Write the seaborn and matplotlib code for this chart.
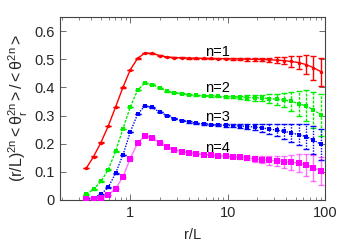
import numpy as np
import pandas as pd
import matplotlib
matplotlib.use("Agg")
import matplotlib.pyplot as plt
import seaborn as sns

r_over_L = [0.354, 0.420, 0.5, 0.595, 0.707, 0.841, 1.0, 1.189, 1.414, 1.682,
            2.0, 2.378, 2.828, 3.364, 4.0, 4.757, 5.657, 6.727, 8.0, 9.514,
            11.31, 13.45, 16.0, 19.03, 22.63, 26.91, 32.0, 38.05, 45.25, 53.82,
            64.0, 76.11, 90.51]

n1 = [0.113, 0.154, 0.204, 0.263, 0.330, 0.400, 0.462, 0.503, 0.522, 0.521,
      0.513, 0.508, 0.506, 0.505, 0.504, 0.504, 0.503, 0.503, 0.502, 0.502,
      0.501, 0.501, 0.500, 0.500, 0.499, 0.498, 0.497, 0.495, 0.492, 0.488,
      0.481, 0.470, 0.456]
n1_err = [0.001, 0.001, 0.001, 0.001, 0.001, 0.001, 0.001, 0.001, 0.001, 0.001,
          0.001, 0.001, 0.002, 0.002, 0.002, 0.002, 0.002, 0.002, 0.002, 0.002,
          0.004, 0.004, 0.005, 0.005, 0.006, 0.008, 0.010, 0.013, 0.018, 0.024,
          0.033, 0.043, 0.050]

n2 = [0.020, 0.038, 0.066, 0.108, 0.173, 0.252, 0.330, 0.390, 0.415, 0.410,
      0.398, 0.386, 0.381, 0.378, 0.374, 0.372, 0.370, 0.369, 0.368, 0.367,
      0.366, 0.365, 0.364, 0.363, 0.362, 0.360, 0.358, 0.355, 0.350, 0.342,
      0.334, 0.320, 0.303]
n2_err = [0.001, 0.001, 0.001, 0.001, 0.001, 0.001, 0.001, 0.001, 0.001, 0.001,
          0.001, 0.002, 0.002, 0.002, 0.002, 0.002, 0.002, 0.003, 0.003, 0.004,
          0.005, 0.006, 0.008, 0.010, 0.012, 0.016, 0.020, 0.025, 0.035, 0.045,
          0.055, 0.065, 0.075]

n3 = [0.005, 0.008, 0.020, 0.045, 0.095, 0.160, 0.241, 0.305, 0.334, 0.329,
      0.312, 0.300, 0.289, 0.282, 0.277, 0.273, 0.270, 0.268, 0.266, 0.265,
      0.264, 0.263, 0.261, 0.259, 0.256, 0.252, 0.248, 0.244, 0.238, 0.232,
      0.225, 0.213, 0.198]
n3_err = [0.001, 0.001, 0.001, 0.001, 0.001, 0.001, 0.001, 0.001, 0.001, 0.001,
          0.001, 0.002, 0.002, 0.002, 0.002, 0.002, 0.002, 0.003, 0.003, 0.004,
          0.005, 0.007, 0.009, 0.012, 0.015, 0.018, 0.022, 0.027, 0.032, 0.038,
          0.044, 0.050, 0.055]

n4 = [0.002, 0.003, 0.006, 0.018, 0.040, 0.082, 0.147, 0.202, 0.228, 0.221,
      0.203, 0.187, 0.178, 0.172, 0.167, 0.164, 0.161, 0.159, 0.157, 0.155,
      0.153, 0.151, 0.149, 0.146, 0.143, 0.141, 0.139, 0.136, 0.134, 0.131,
      0.125, 0.115, 0.103]
n4_err = [0.001, 0.001, 0.001, 0.001, 0.001, 0.001, 0.001, 0.001, 0.001, 0.001,
          0.001, 0.002, 0.002, 0.002, 0.002, 0.002, 0.002, 0.003, 0.003, 0.004,
          0.005, 0.006, 0.008, 0.010, 0.012, 0.015, 0.018, 0.022, 0.027, 0.033,
          0.040, 0.046, 0.050]

labels = ["n=1", "n=2", "n=3", "n=4"]
label_x = [7.8, 7.8, 7.8, 7.8]
label_y = [0.525, 0.398, 0.294, 0.184]

sns.set_style("ticks")
plt.rcParams["font.family"] = ["Liberation Sans", "DejaVu Sans"]
plt.rcParams["mathtext.fontset"] = "custom"
plt.rcParams["mathtext.rm"] = "Liberation Sans"
plt.rcParams["mathtext.it"] = "Liberation Sans:italic"
plt.rcParams["mathtext.default"] = "regular"

fig = plt.figure(figsize=(3.5, 2.45), dpi=100)
ax = fig.add_axes([0.1714, 0.1837, 0.7572, 0.7469])

series = [
    (n1, n1_err, "#ff0000", "-", "o", 2.5, 1.0, 1.0),
    (n2, n2_err, "#00ee00", (0, (2, 1)), "s", 3.0, 1.0, 1.0),
    (n3, n3_err, "#0000ff", (0, (1, 1)), "s", 3.2, 1.0, 1.0),
    (n4, n4_err, "#ff00ff", "-", "s", 5.0, 1.0, 0.55),
]

for vals, err, col, ls, mk, ms, lw, alpha in series:
    df = pd.DataFrame({"x": r_over_L, "y": vals})
    sns.lineplot(data=df, x="x", y="y", ax=ax, color=col, linestyle=ls,
                 lw=lw, alpha=alpha, marker=None)
    sns.scatterplot(data=df, x="x", y="y", ax=ax, color=col, marker=mk,
                    s=ms ** 2, linewidth=0, zorder=3)
    eb = ax.errorbar(r_over_L, vals, yerr=err, fmt="none", ecolor=col,
                     elinewidth=1.0, capsize=2.0, capthick=1.0, alpha=alpha)
    if ls != "-":
        for lc in eb[2]:
            lc.set_linestyle(ls)

for t, xx, yy in zip(labels, label_x, label_y):
    ax.text(xx, yy, t, fontsize=10.5, ha="center", va="center", color="black")

ax.set_xscale("log")
ax.set_xlim(0.19, 100)
ax.set_ylim(0, 0.65)
ax.set_yticks([0, 0.1, 0.2, 0.3, 0.4, 0.5, 0.6])
ax.set_yticklabels(["0", "0.1", "0.2", "0.3", "0.4", "0.5", "0.6"])
ax.set_xticks([1, 10, 100])
ax.set_xticklabels(["1", "10", "100"])
ax.tick_params(which="both", direction="in", top=True, right=True,
               labelsize=10.5, color="#555555", pad=4)
ax.tick_params(which="major", length=4, width=0.6)
ax.tick_params(which="minor", length=2, width=0.5)
for sp in ax.spines.values():
    sp.set_linewidth(0.8)
    sp.set_color("#444444")

ax.set_xlabel("r/L", fontsize=10.5, labelpad=6)
ax.set_ylabel(r"$(r/L)^{2n} < \theta_r^{2n} > / <\theta^{2n}>$", fontsize=11.5, labelpad=3)

fig.savefig("out.png", dpi=100)
